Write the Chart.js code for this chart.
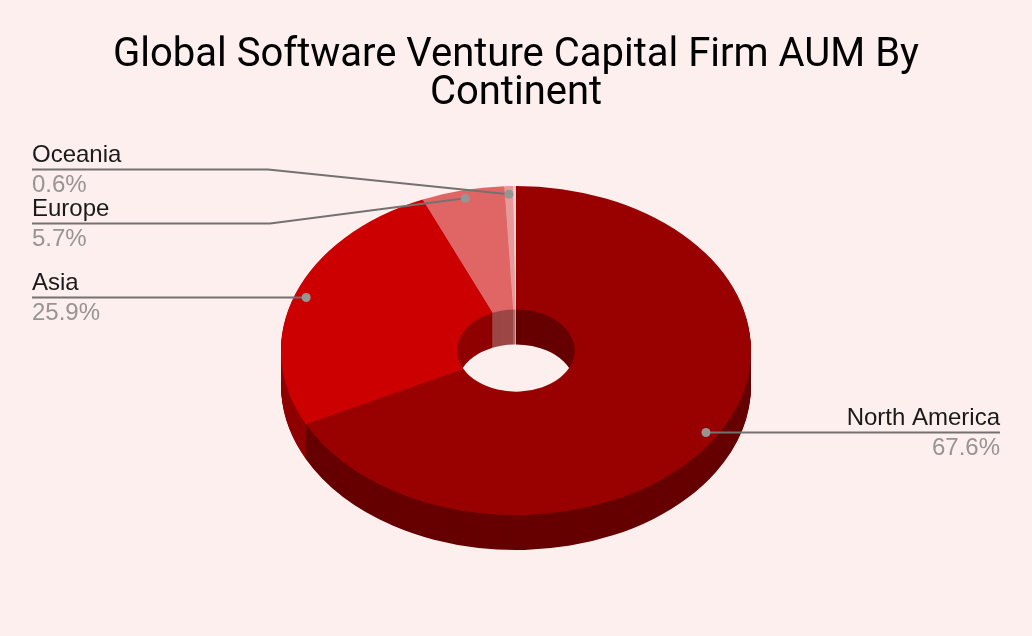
<!DOCTYPE html>
<html>
<head>
<meta charset="utf-8">
<title>Global Software Venture Capital Firm AUM By Continent</title>
<script src="https://cdn.jsdelivr.net/npm/chart.js"></script>
<style>
  html, body { margin: 0; padding: 0; background: #fcefee; }
  canvas { display: block; }
</style>
</head>
<body>
<canvas id="aumChart" width="1032" height="636"></canvas>
<script>
const continents = ['North America', 'Asia', 'Europe', 'Oceania', 'Other'];
const aumShare = [67.6, 25.9, 5.7, 0.6, 0.2];
const topColors = ['#990000', '#cc0000', '#e06666', '#ea9999', '#f4cccc'];
const sideColors = ['#660000', '#8f0000', '#9d4747', '#a86f6f', '#d2aaaa'];

// where each callout text sits, the pie slices give the other end of the line
const callouts = [
  { index: 0, textX: 1000, baseline: 425, align: 'right', elbowX: null },
  { index: 1, textX: 32, baseline: 290, align: 'left', elbowX: null },
  { index: 2, textX: 32, baseline: 216, align: 'left', elbowX: 270 },
  { index: 3, textX: 32, baseline: 162, align: 'left', elbowX: 268 },
];

const pieCenterY = 350.5;
const squash = 164.5 / 235;
const depth = 35;

function tilt(chart) {
  const arc = chart.getDatasetMeta(0).data[0];
  const ctx = chart.ctx;
  ctx.translate(arc.x, pieCenterY);
  ctx.scale(1, squash);
  ctx.translate(-arc.x, -arc.y);
}

const tiltedPie = {
  id: 'tiltedPie',
  beforeDatasetsDraw(chart) {
    const ctx = chart.ctx;
    const arcs = chart.getDatasetMeta(0).data;
    ctx.save();
    tilt(chart);
    // stack of darker rings makes the side wall, also the wall inside the hole
    for (let d = depth; d > 0; d--) {
      ctx.save();
      ctx.translate(0, d / squash);
      arcs.forEach((arc, i) => {
        const opts = arc.options;
        const dark = Object.create(opts);
        dark.backgroundColor = sideColors[i];
        arc.options = dark;
        arc.draw(ctx);
        arc.options = opts;
      });
      ctx.restore();
    }
  },
  afterDatasetsDraw(chart) {
    chart.ctx.restore();
  },
  afterDraw(chart) {
    const ctx = chart.ctx;
    const arcs = chart.getDatasetMeta(0).data;
    callouts.forEach((c) => {
      const arc = arcs[c.index];
      const mid = (arc.startAngle + arc.endAngle) / 2;
      const r = arc.outerRadius * 0.95;
      const dotX = arc.x + Math.cos(mid) * r;
      const dotY = pieCenterY + Math.sin(mid) * r * squash;
      const lineY = c.baseline + 7.5;

      ctx.strokeStyle = '#757171';
      ctx.lineWidth = 2;
      ctx.beginPath();
      ctx.moveTo(c.textX, lineY);
      if (c.elbowX) ctx.lineTo(c.elbowX, lineY);
      ctx.lineTo(dotX, c.elbowX ? dotY : lineY);
      ctx.stroke();

      ctx.fillStyle = '#999494';
      ctx.beginPath();
      ctx.arc(dotX, c.elbowX ? dotY : lineY, 4.5, 0, Math.PI * 2);
      ctx.fill();

      ctx.textAlign = c.align;
      ctx.textBaseline = 'alphabetic';
      ctx.font = '24px "Liberation Sans", Arial, sans-serif';
      ctx.fillStyle = '#1a1a1a';
      ctx.fillText(continents[c.index], c.textX, c.baseline);
      ctx.fillStyle = '#999494';
      ctx.fillText(aumShare[c.index].toFixed(1) + '%', c.textX, c.baseline + 30);
    });
  },
};

new Chart(document.getElementById('aumChart').getContext('2d'), {
  type: 'doughnut',
  data: {
    labels: continents,
    datasets: [
      {
        data: aumShare,
        backgroundColor: topColors,
        borderWidth: 0,
        clip: false,
      },
    ],
  },
  options: {
    responsive: false,
    animation: false,
    radius: 235,
    cutout: '25%',
    layout: { padding: 0 },
    plugins: {
      legend: { display: false },
      tooltip: { enabled: false },
      title: {
        display: true,
        text: ['Global Software Venture Capital Firm AUM By', 'Continent'],
        color: '#000000',
        font: { family: 'Roboto', size: 40, weight: 'normal', lineHeight: 0.95 },
        padding: { top: 37, bottom: 10 },
      },
    },
  },
  plugins: [tiltedPie],
});
</script>
</body>
</html>
